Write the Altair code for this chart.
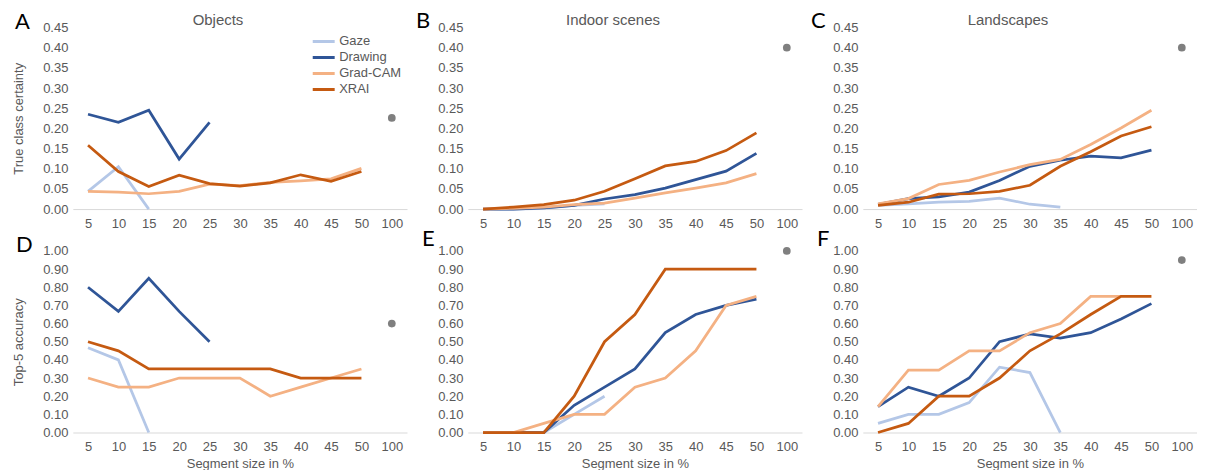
import altair as alt
import pandas as pd

sizes = ["5", "10", "15", "20", "25", "30", "35", "40", "45", "50", "100"]
methods = ["Gaze", "Drawing", "Grad-CAM", "XRAI"]
colors = ["#b4c7e7", "#2f5597", "#f4b183", "#c55a11"]

# --- True class certainty ---
obj_cert_gaze = [0.044, 0.105, 0.0]
obj_cert_drawing = [0.235, 0.215, 0.245, 0.124, 0.215]
obj_cert_gradcam = [0.044, 0.042, 0.038, 0.044, 0.062, 0.058, 0.066, 0.070, 0.075, 0.101]
obj_cert_xrai = [0.158, 0.093, 0.056, 0.084, 0.063, 0.057, 0.065, 0.085, 0.069, 0.093]
obj_cert_full = 0.226

ind_cert_gaze = [0.0, 0.0, 0.002, 0.009, 0.013]
ind_cert_drawing = [0.0, 0.0, 0.003, 0.009, 0.025, 0.036, 0.052, 0.073, 0.094, 0.138]
ind_cert_gradcam = [0.0, 0.002, 0.005, 0.011, 0.015, 0.027, 0.040, 0.052, 0.065, 0.088]
ind_cert_xrai = [0.0, 0.005, 0.011, 0.022, 0.044, 0.075, 0.107, 0.118, 0.145, 0.189]
ind_cert_full = 0.40

land_cert_gaze = [0.009, 0.013, 0.017, 0.019, 0.027, 0.012, 0.005]
land_cert_drawing = [0.012, 0.026, 0.030, 0.042, 0.071, 0.106, 0.121, 0.131, 0.127, 0.146]
land_cert_gradcam = [0.013, 0.026, 0.061, 0.071, 0.092, 0.110, 0.123, 0.160, 0.201, 0.245]
land_cert_xrai = [0.009, 0.017, 0.037, 0.038, 0.044, 0.059, 0.106, 0.142, 0.181, 0.204]
land_cert_full = 0.40

# --- Top-5 accuracy ---
obj_acc_gaze = [0.467, 0.40, 0.0]
obj_acc_drawing = [0.80, 0.667, 0.85, 0.667, 0.50]
obj_acc_gradcam = [0.30, 0.25, 0.25, 0.30, 0.30, 0.30, 0.20, 0.25, 0.30, 0.35]
obj_acc_xrai = [0.50, 0.45, 0.35, 0.35, 0.35, 0.35, 0.35, 0.30, 0.30, 0.30]
obj_acc_full = 0.60

ind_acc_gaze = [0.0, 0.0, 0.0, 0.10, 0.20]
ind_acc_drawing = [0.0, 0.0, 0.0, 0.15, 0.25, 0.35, 0.55, 0.65, 0.70, 0.735]
ind_acc_gradcam = [0.0, 0.0, 0.05, 0.10, 0.10, 0.25, 0.30, 0.45, 0.70, 0.75]
ind_acc_xrai = [0.0, 0.0, 0.0, 0.20, 0.50, 0.65, 0.90, 0.90, 0.90, 0.90]
ind_acc_full = 1.00

land_acc_gaze = [0.05, 0.10, 0.10, 0.165, 0.36, 0.33, 0.0]
land_acc_drawing = [0.143, 0.25, 0.20, 0.30, 0.50, 0.543, 0.52, 0.55, 0.625, 0.71]
land_acc_gradcam = [0.143, 0.343, 0.343, 0.45, 0.45, 0.55, 0.60, 0.75, 0.75]
land_acc_xrai = [0.0, 0.05, 0.20, 0.20, 0.30, 0.45, 0.543, 0.65, 0.75, 0.75]
land_acc_full = 0.95

cert_ticks = [0.0, 0.05, 0.10, 0.15, 0.20, 0.25, 0.30, 0.35, 0.40, 0.45]
acc_ticks = [0.0, 0.1, 0.2, 0.3, 0.4, 0.5, 0.6, 0.7, 0.8, 0.9, 1.0]

FONT = "Liberation Sans"
GREY = "#595959"
W, H = 335, 182


def make_df(series):
    rows = []
    for m, vals in zip(methods, series):
        for s, v in zip(sizes, vals):
            rows.append({"size": s, "value": v, "method": m})
    return pd.DataFrame(rows)


def panel(series, full, letter, title, ytitle, xtitle, ydomain, yticks, legend, letter_pos):
    df = make_df(series)
    xenc = alt.X(
        "size:O",
        sort=sizes,
        scale=alt.Scale(domain=sizes),
        axis=alt.Axis(
            title=xtitle if xtitle else None,
            labelAngle=0,
            ticks=False,
            domainColor="#d9d9d9",
            domainWidth=1,
            labelPadding=8,
            labelFontSize=13,
            labelColor=GREY,
            labelFont=FONT,
            titleFontSize=13,
            titleFontWeight="normal",
            titleColor=GREY,
            titleFont=FONT,
            titlePadding=4,
        ),
    )
    yaxis = alt.Axis(
        values=yticks,
        format=".2f",
        domain=False,
        ticks=False,
        grid=False,
        labelPadding=5,
        labelFontSize=13,
        labelColor=GREY,
        labelFont=FONT,
        title=ytitle if ytitle else None,
        titleFontSize=13,
        titleFontWeight="normal",
        titleColor=GREY,
        titleFont=FONT,
        titleX=-54,
        titleBaseline="middle",
    )
    yenc = alt.Y("value:Q", scale=alt.Scale(domain=ydomain, nice=False, zero=True), axis=yaxis)
    if legend:
        leg = alt.Legend(
            title=None,
            orient="none",
            legendX=239,
            legendY=6,
            symbolType="stroke",
            symbolSize=484,
            symbolStrokeWidth=3,
            labelFontSize=13,
            labelColor=GREY,
            labelFont=FONT,
            labelOffset=3,
            clipHeight=16,
            rowPadding=0,
            padding=0,
        )
    else:
        leg = None
    layers = []
    for m in methods:
        sub = df[df["method"] == m]
        layers.append(
            alt.Chart(sub)
            .mark_line(strokeWidth=2.75)
            .encode(
                x=xenc,
                y=yenc,
                color=alt.Color("method:N", scale=alt.Scale(domain=methods, range=colors), legend=leg),
            )
        )
    dot = alt.Chart(pd.DataFrame({"size": ["100"], "value": [full]})).mark_circle(
        size=60, color="#7f7f7f", opacity=1
    ).encode(x=xenc, y=yenc)
    lab = alt.Chart(pd.DataFrame({"t": [letter]})).mark_text(
        fontSize=22, font="Lato", color="black", align="left", baseline="alphabetic"
    ).encode(text="t:N", x=alt.value(letter_pos[0]), y=alt.value(letter_pos[1]))
    parts = layers + [dot, lab]
    if title:
        ttl = alt.Chart(pd.DataFrame({"t": [title]})).mark_text(
            fontSize=15, font=FONT, color=GREY, align="center", baseline="alphabetic"
        ).encode(text="t:N", x=alt.value(W / 2 - 22), y=alt.value(-3))
        parts.append(ttl)
    return alt.layer(*parts).properties(width=W, height=H)


A = panel([obj_cert_gaze, obj_cert_drawing, obj_cert_gradcam, obj_cert_xrai], obj_cert_full,
          "A", "Objects", "True class certainty", None, [0, 0.45], cert_ticks, True, (-58, 1))
B = panel([ind_cert_gaze, ind_cert_drawing, ind_cert_gradcam, ind_cert_xrai], ind_cert_full,
          "B", "Indoor scenes", None, None, [0, 0.45], cert_ticks, False, (-52, 0))
C = panel([land_cert_gaze, land_cert_drawing, land_cert_gradcam, land_cert_xrai], land_cert_full,
          "C", "Landscapes", None, None, [0, 0.45], cert_ticks, False, (-52, 0))
D = panel([obj_acc_gaze, obj_acc_drawing, obj_acc_gradcam, obj_acc_xrai], obj_acc_full,
          "D", "", "Top-5 accuracy", "Segment size in %", [0, 1], acc_ticks, False, (-57, 1))
E = panel([ind_acc_gaze, ind_acc_drawing, ind_acc_gradcam, ind_acc_xrai], ind_acc_full,
          "E", "", None, "Segment size in %", [0, 1], acc_ticks, False, (-46, -5))
F = panel([land_acc_gaze, land_acc_drawing, land_acc_gradcam, land_acc_xrai], land_acc_full,
          "F", "", None, "Segment size in %", [0, 1], acc_ticks, False, (-46, -5))

chart = (
    alt.concat(A, B, C, D, E, F, columns=3, spacing={"row": 42, "column": 61}, bounds="flush")
    .resolve_legend(color="independent")
    .properties(padding={"left": 5, "top": 1, "right": 0, "bottom": 0}, background="white")
    .configure_view(stroke=None)
)

chart.save("out.html", embed_options={"renderer": "svg", "actions": False})
